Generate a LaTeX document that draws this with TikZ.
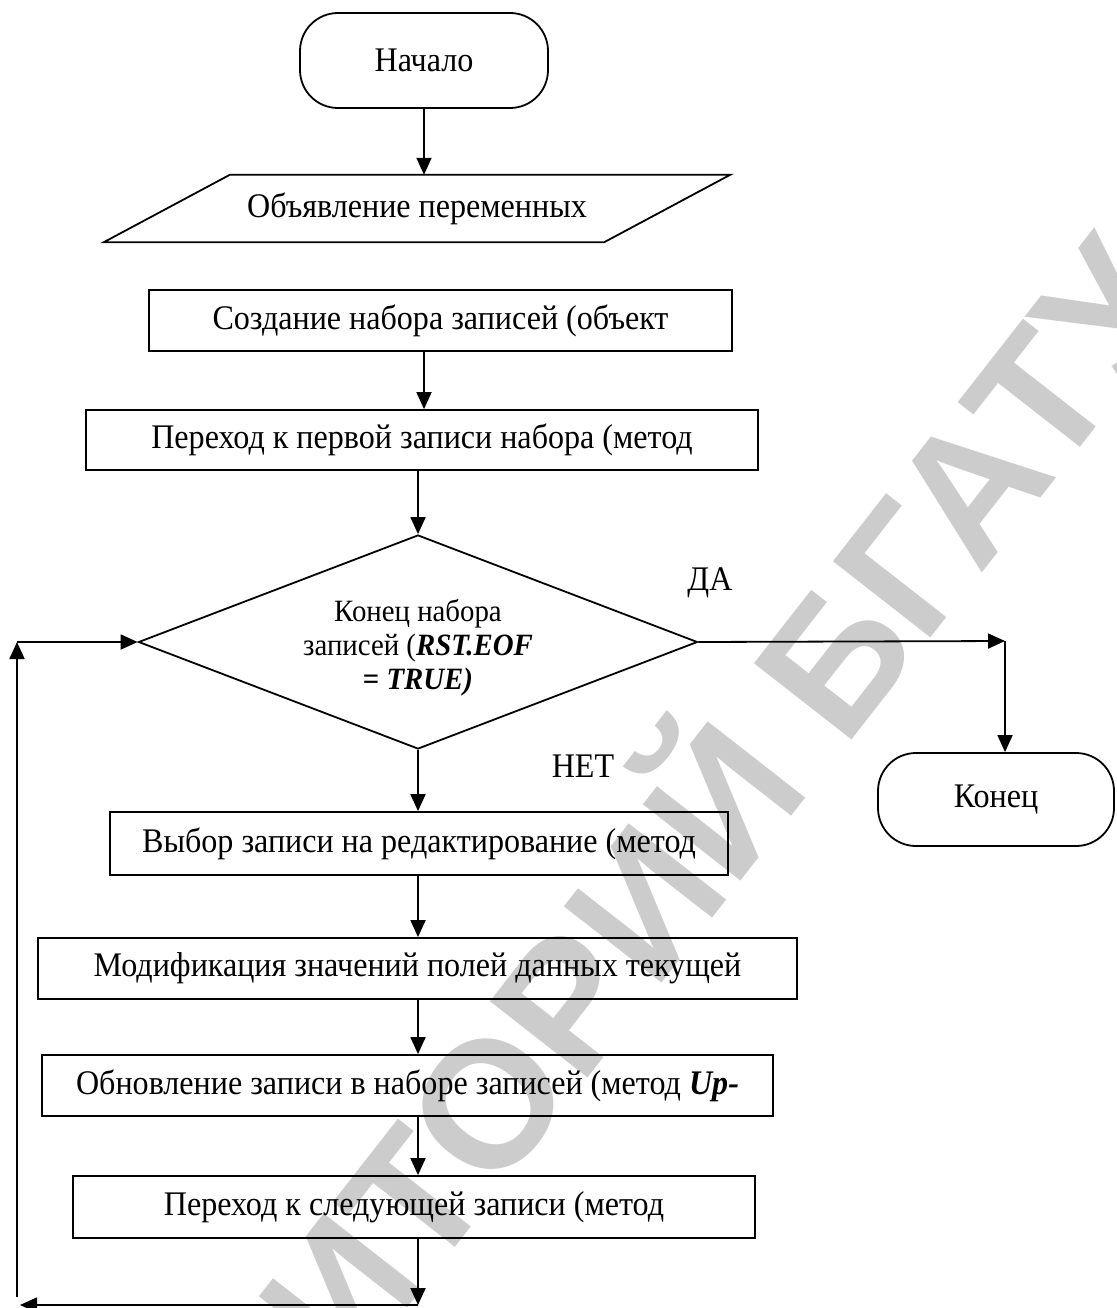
\documentclass[tikz,border=0pt]{standalone}
\usepackage{fontspec}
\setmainfont{Liberation Serif}[FakeStretch=0.93]
\newfontfamily\markfont{Liberation Sans}
\usetikzlibrary{shapes,arrows.meta,positioning}

\begin{document}
\begin{tikzpicture}[x=1pt, y=-1pt,
    font=\fontsize{34.5}{40}\selectfont,
    box/.style={draw, line width=1.8pt, minimum height=61pt, inner sep=0pt},
    term/.style={draw, line width=1.8pt, rounded corners=38pt, minimum width=248pt, minimum height=95pt},
    decision/.style={draw, diamond, line width=1.8pt, minimum width=559pt, minimum height=214pt, inner sep=0pt},
    arr/.style={-{Triangle[length=17pt,width=15pt]}, line width=1.8pt},
    line/.style={line width=1.8pt}]
    \useasboundingbox (0,0) rectangle (1116,1308);

    % watermark behind everything
    \node[rotate=52, text=black!20, font=\markfont\bfseries\fontsize{180}{180}\selectfont] (mark) at (515,1040) {РЕПОЗИТОРИЙ БГАТУ};

    % start, declarations
    \node[term] (start) at (424,60.5) {Начало};
    \node[minimum width=500pt, minimum height=67pt, inner sep=0pt] (vars) at (417,208.5) {Объявление переменных};
    \draw[line] ([xshift=-63pt]vars.south west) -- ([xshift=63pt]vars.north west)
        -- ([xshift=63pt]vars.north east) -- ([xshift=-63pt]vars.south east) -- cycle;

    % record set
    \node[box, minimum width=583pt] (create) at (440.5,320.5) {Создание набора записей (объект};
    \node[box, minimum width=672pt, minimum height=60pt] (first) at (422,440) {Переход к первой записи набора (метод};

    % EOF check
    \node[decision] (eof) at (418,642) {};
    \node[align=center, font=\fontsize{31}{34}\selectfont] (eoftext) at (418,648)
        {Конец набора\\записей (\textbf{\textit{RST.EOF}}\\\textbf{= \textit{TRUE)}}};
    \node (yes) at (710,583) {ДА};
    \node (no) at (583,766) {НЕТ};
    \node[term, minimum width=236pt, minimum height=93pt] (stop) at (996,799.5) {Конец};

    % loop body
    \node[box, minimum width=618pt, minimum height=63pt] (pick) at (419,843.5) {Выбор записи на редактирование (метод};
    \node[box, minimum width=759pt] (modify) at (417.5,968.5) {Модификация значений полей данных текущей};
    \node[box, minimum width=731pt] (update) at (407.5,1085.5) {Обновление записи в наборе записей (метод \textbf{\textit{Up-}}};
    \node[box, minimum width=682pt, minimum height=62pt] (next) at (414,1207) {Переход к следующей записи (метод};

    \coordinate (turn) at (1005,641);
    \coordinate (low) at (418,1305);
    \coordinate (lowleft) at (20,1305);
    \coordinate (foot) at (17,1297);
    \coordinate (upleft) at (17,642);

    \draw[arr] (start.south) -- (start.south |- vars.north);
    \draw[arr] (create.south -| start.south) -- (first.north -| start.south);
    \draw[arr] (first.south -| eof.north) -- (eof.north);
    \draw[arr] (eof.east) -- (turn);
    \draw[arr] (turn) -- (turn |- stop.north);
    \draw[arr] (eof.south) -- (pick.north -| eof.south);
    \draw[arr] (pick.south -| eof.south) -- (modify.north -| eof.south);
    \draw[arr] (modify.south -| eof.south) -- (update.north -| eof.south);
    \draw[arr] (update.south -| eof.south) -- (next.north -| eof.south);
    \draw[arr] (next.south -| eof.south) -- (low);
    % back to the check
    \draw[arr] (low) -- (lowleft);
    \draw[arr] (foot) -- (upleft);
    \draw[arr] (upleft) -- (eof.west);
\end{tikzpicture}
\end{document}
